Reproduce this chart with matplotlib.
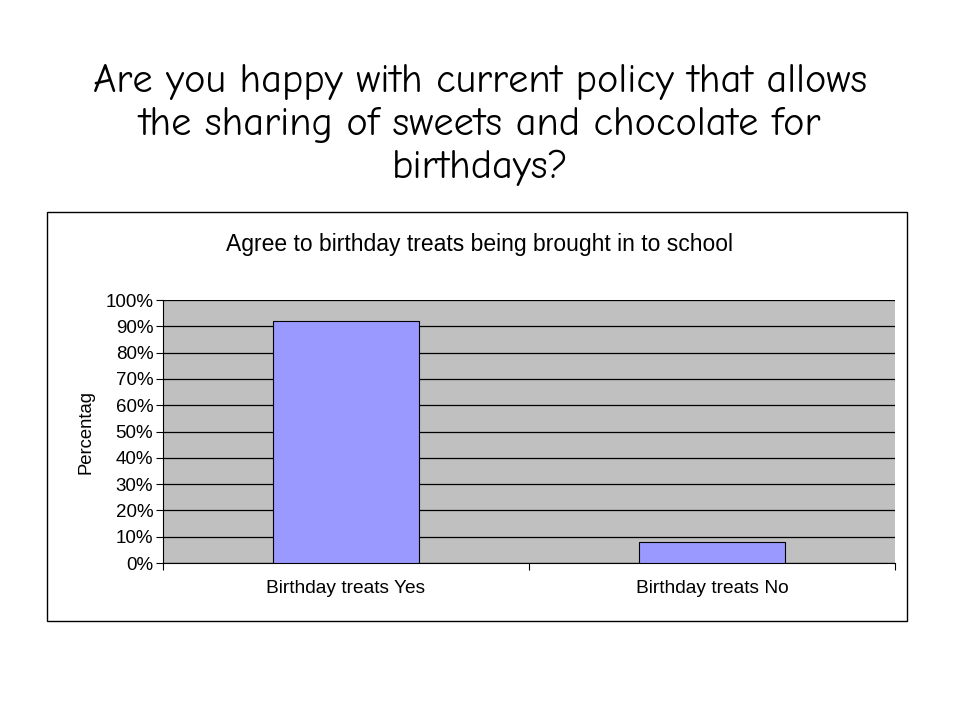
import matplotlib.pyplot as plt
from matplotlib.patches import Rectangle
from matplotlib.ticker import PercentFormatter

categories = ["Birthday treats Yes", "Birthday treats No"]
values = [92, 8]
yticks = list(range(0, 101, 10))

slide_title = ("Are you happy with current policy that allows\n"
               "the sharing of sweets and chocolate for\n"
               "birthdays?")
chart_title = "Agree to birthday treats being brought in to school"

plt.rcParams["font.family"] = ["Liberation Sans", "DejaVu Sans"]

fig = plt.figure(figsize=(9.6, 7.2), dpi=100)

# slide title
fig.text(0.5, 1 - 125 / 720, slide_title, ha="center", va="center",
         fontsize=29, family=["Comic Neue", "Open Sans", "DejaVu Sans"],
         linespacing=1.23)

# chart frame
fig.patches.append(Rectangle((47 / 960, 1 - 621 / 720), 860 / 960, 409 / 720,
                             transform=fig.transFigure, fill=False,
                             edgecolor="black", linewidth=1.0))

fig.text(479 / 960, 1 - 244 / 720, chart_title, ha="center", va="center",
         fontsize=16.5)

ax = fig.add_axes([163 / 960, 1 - 563 / 720, 732 / 960, 263 / 720])
ax.set_facecolor("#c0c0c0")
x = range(len(categories))
ax.bar(x, values, width=0.4, color="#9999ff", edgecolor="black",
       linewidth=0.8, zorder=3)

ax.set_xlim(-0.5, len(categories) - 0.5)
ax.set_ylim(0, 100)
ax.set_yticks(yticks)
ax.yaxis.set_major_formatter(PercentFormatter(decimals=0))
ax.grid(axis="y", color="black", linewidth=0.9, zorder=1)
ax.set_axisbelow(True)

ax.set_xticks([-0.5, 0.5, 1.5], minor=False)
ax.set_xticklabels([])
ax.set_xticks(list(x), minor=True)
ax.set_xticklabels(categories, minor=True, fontsize=13.8)
ax.tick_params(axis="x", which="minor", length=0, pad=12)
ax.tick_params(axis="x", which="major", length=5, direction="out")
ax.tick_params(axis="y", labelsize=13.5, length=5, direction="out", pad=2)

ax.set_ylabel("Percentag", fontsize=13.3, labelpad=8)

for side in ["top", "right"]:
    ax.spines[side].set_visible(False)
ax.spines["left"].set_color("black")
ax.spines["bottom"].set_color("black")

fig.savefig("out.png", dpi=100)
